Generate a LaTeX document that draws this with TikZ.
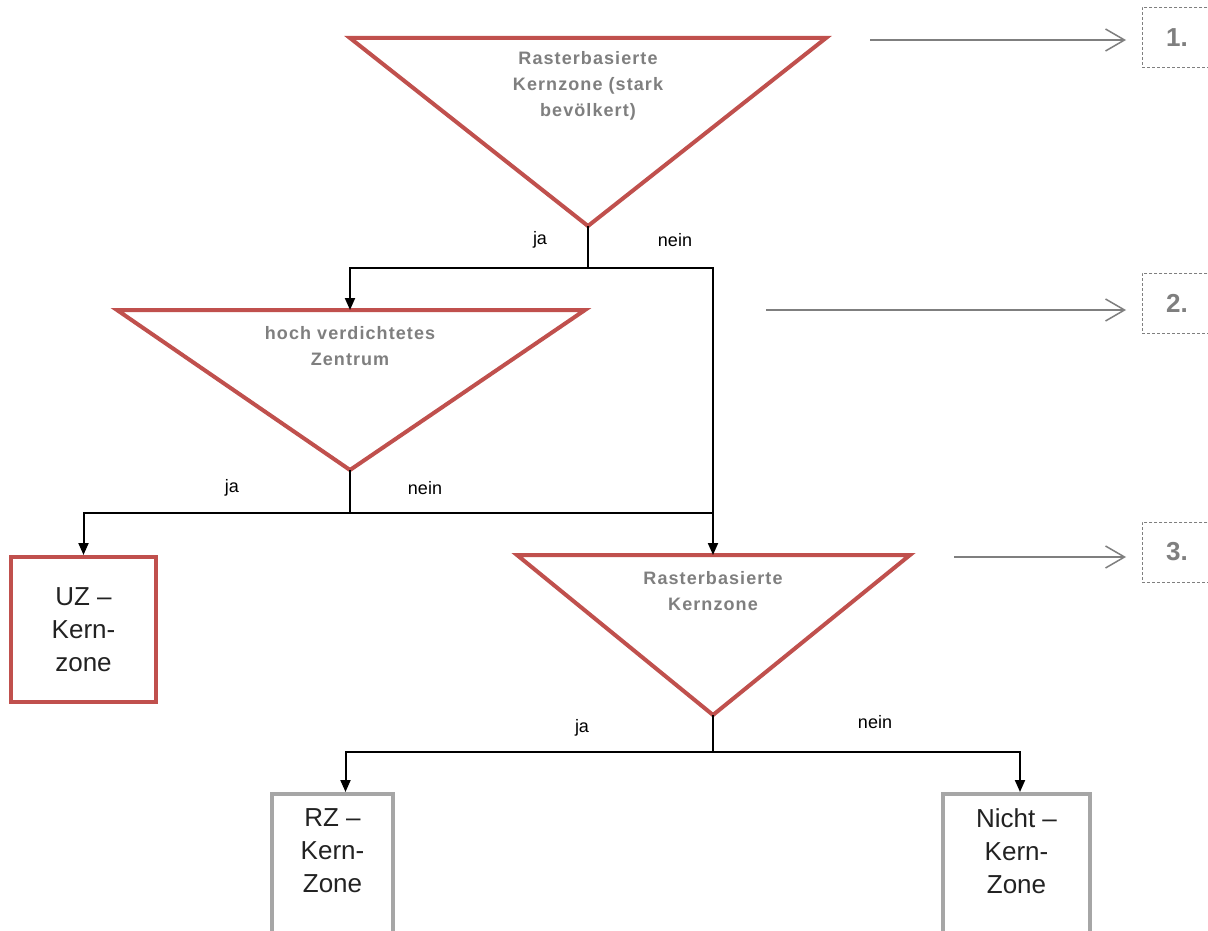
\documentclass[tikz,border=0pt]{standalone}
\usepackage{fontspec}
\setmainfont{Liberation Sans}
\usetikzlibrary{arrows.meta,calc}
\definecolor{zonered}{HTML}{C0504D}
\definecolor{boxgray}{HTML}{A6A6A6}
\definecolor{labelgray}{HTML}{7F7F7F}
\definecolor{textdark}{HTML}{222222}
\tikzset{
  decision/.style={draw=zonered,line width=4pt,line join=miter},
  qtext/.style={text=labelgray,font=\bfseries\fontsize{18}{26}\selectfont\addfontfeatures{LetterSpace=6},align=center,inner sep=0pt},
  zonebox/.style={line width=4pt,fill=white,text=textdark,align=center,
    font=\fontsize{26}{33}\selectfont,inner sep=0pt},
  zonetext/.style={text=textdark,align=center,font=\fontsize{26}{33}\selectfont,inner sep=0pt,anchor=north},
  flow/.style={draw=black,line width=2pt,-{Triangle[width=10pt,length=12pt]}},
  plainline/.style={draw=black,line width=2pt},
  answer/.style={font=\fontsize{18}{20}\selectfont,text=black,inner sep=0pt},
  levelbox/.style={draw=labelgray,densely dashed,line width=0.8pt,minimum width=90pt,
    minimum height=60pt,inner sep=0pt,anchor=north west},
  levelnum/.style={text=labelgray,font=\bfseries\fontsize{26}{28}\selectfont,inner sep=0pt},
  levelarrow/.style={draw=labelgray,line width=1.5pt,-{Straight Barb[length=19pt,width=22pt,line width=1.5pt]}}
}
\begin{document}
\begin{tikzpicture}[x=1pt,y=-1pt]
\clip (0,0) rectangle (1208,931);
\fill[white] (0,0) rectangle (1208,931);

% decision triangles
\coordinate (t1l) at (350,38);  \coordinate (t1r) at (826,38);  \coordinate (t1apex) at (588,226);
\coordinate (t2l) at (117,310); \coordinate (t2r) at (585,310); \coordinate (t2apex) at (350,470);
\coordinate (t3l) at (517,555); \coordinate (t3r) at (910,555); \coordinate (t3apex) at (713,715);
\coordinate (t2top) at (350,310);
\coordinate (t3top) at (713,555);

\draw[decision] (t1l) -- (t1r) -- (t1apex) -- cycle;
\draw[decision] (t2l) -- (t2r) -- (t2apex) -- cycle;
\draw[decision] (t3l) -- (t3r) -- (t3apex) -- cycle;

\node[qtext] (q1) at (588,86) {Rasterbasierte\\Kernzone (stark\\bevölkert)};
\node[qtext] (q2) at (350,346) {hoch verdichtetes\\Zentrum};
\node[qtext] (q3) at (713,591) {Rasterbasierte\\Kernzone};

% result boxes
\node[zonebox,draw=zonered,minimum width=145pt,minimum height=145pt] (uz) at (83.5,629.5) {UZ –\\Kern-\\zone};
\node[zonebox,draw=boxgray,minimum width=121pt,minimum height=170pt,anchor=north] (rz) at (332.5,792) {};
\node[zonetext] (rzt) at (332.5,808) {RZ –\\Kern-\\Zone};
\node[zonebox,draw=boxgray,minimum width=147pt,minimum height=170pt,anchor=north] (nk) at (1016.5,792) {};
\node[zonetext] (nkt) at (1016.5,808) {Nicht –\\Kern-\\Zone};

% decision branches
\draw[plainline] (t1apex) -- ++(0,42) coordinate (j1);
\draw[flow] (j1) -| (t2top);
\draw[flow] (j1) -| (t3top);
\draw[plainline] (t2apex) -- ++(0,43) coordinate (j2);
\draw[flow] (j2) -| (uz.north);
\draw[plainline] (j2) -- (j2 -| t3top);
\draw[plainline] (t3apex) -- ++(0,37) coordinate (j3);
\draw[flow] (j3) -| ([xshift=13pt]rz.north);
\draw[flow] (j3) -| ([xshift=3.5pt]nk.north);

% branch labels
\node[answer] (ja1) at (540,240) {ja};
\node[answer] (nein1) at (675,240) {nein};
\node[answer] (ja2) at (232,488) {ja};
\node[answer] (nein2) at (425,488) {nein};
\node[answer] (ja3) at (582,728) {ja};
\node[answer] (nein3) at (875,722) {nein};

% level markers
\node[levelbox] (l1) at (1142,7) {};
\node[levelbox] (l2) at (1142,273) {};
\node[levelbox] (l3) at (1142,522) {};
\node[levelnum] (n1) at (1177,38) {1.};
\node[levelnum] (n2) at (1177,303) {2.};
\node[levelnum] (n3) at (1177,552) {3.};
\coordinate (a1) at (870,40);
\coordinate (a2) at (766,310);
\coordinate (a3) at (954,557);
\draw[levelarrow] (a1) -- ([xshift=-16pt]l1.west |- a1);
\draw[levelarrow] (a2) -- ([xshift=-16pt]l2.west |- a2);
\draw[levelarrow] (a3) -- ([xshift=-16pt]l3.west |- a3);
\end{tikzpicture}
\end{document}
